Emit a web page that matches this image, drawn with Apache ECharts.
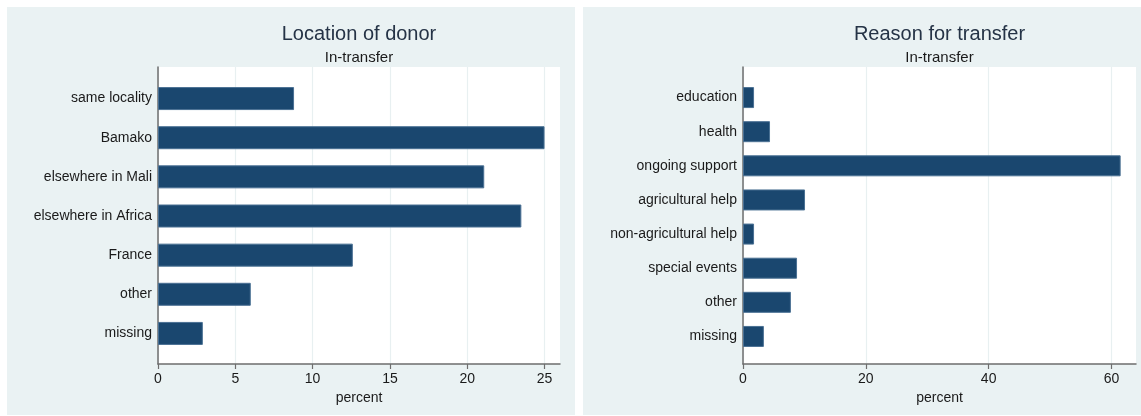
<!DOCTYPE html>
<html>
<head>
<meta charset="utf-8">
<script src="https://cdn.jsdelivr.net/npm/echarts@6/dist/echarts.min.js"></script>
<style>
html,body{margin:0;padding:0;background:#fff;}
#c{width:1141px;height:416px;}
</style>
</head>
<body>
<div id="c"></div>
<script>
// ---- data ----
const donorCategories = ['same locality','Bamako','elsewhere in Mali','elsewhere in Africa','France','other','missing'];
const donorValues = [8.8, 25.0, 21.1, 23.5, 12.6, 6.0, 2.9];
const donorTicks = [0, 5, 10, 15, 20, 25];

const reasonCategories = ['education','health','ongoing support','agricultural help','non-agricultural help','special events','other','missing'];
const reasonValues = [1.8, 4.4, 61.5, 10.1, 1.8, 8.8, 7.8, 3.4];
const reasonTicks = [0, 20, 40, 60];

const titles = ['Location of donor', 'Reason for transfer'];
const subtitle = 'In-transfer';
const axisTitle = 'percent';

// ---- styles ----
const FONT = '"Liberation Sans", Arial, sans-serif';
const PANEL_BG = '#eaf2f3';
const BAR = '#1a476f';
const TXT = '#1a1a1a';
const TITLE_C = '#253346';
const AXIS_C = '#6e6e6e';
const GRID_C = '#e8f0f1';

const chart = echarts.init(document.getElementById('c'), null, {renderer:'canvas'});

function bgX(gridIndex, max, ticks){
  return {
    type:'value', gridIndex, min:0, max, interval: ticks[1]-ticks[0],
    axisLine:{show:true, onZero:false, lineStyle:{color:AXIS_C, width:1.5}},
    axisTick:{show:true, length:5, customValues: ticks, lineStyle:{color:AXIS_C, width:1.2}},
    axisLabel:{show:true, fontSize:14, fontFamily:FONT, color:TXT, margin:8, customValues: ticks},
    splitLine:{show:true, lineStyle:{color:GRID_C, width:1.2}},
    name: axisTitle, nameLocation:'middle', nameGap:26,
    nameTextStyle:{fontSize:14, fontFamily:FONT, color:TXT}
  };
}
function hiddenX(gridIndex, max){
  return {type:'value', gridIndex, min:0, max, show:false};
}
function bgY(gridIndex){
  return {type:'value', gridIndex, min:0, max:1,
    axisLine:{show:true, lineStyle:{color:AXIS_C, width:1.5}},
    axisTick:{show:false}, axisLabel:{show:false}, splitLine:{show:false}};
}
function catY(gridIndex, cats){
  return {type:'category', gridIndex, data:cats, inverse:true,
    axisLine:{show:false}, axisTick:{show:false},
    axisLabel:{fontSize:14, fontFamily:FONT, color:TXT, margin:6},
    splitLine:{show:false}};
}

const option = {
  animation:false,
  backgroundColor:'#fff',
  graphic:[
    {type:'rect', shape:{x:7, y:7, width:568, height:408}, style:{fill:PANEL_BG}, z:-10, silent:true},
    {type:'rect', shape:{x:583, y:7, width:558, height:408}, style:{fill:PANEL_BG}, z:-10, silent:true}
  ],
  title:[
    {text:titles[0], left:359, top:23, textAlign:'center', padding:0,
      textStyle:{fontSize:20, fontWeight:'normal', fontFamily:FONT, color:TITLE_C, lineHeight:22}},
    {text:subtitle, left:359, top:49, textAlign:'center', padding:0,
      textStyle:{fontSize:15, fontWeight:'normal', fontFamily:FONT, color:TXT, lineHeight:17}},
    {text:titles[1], left:939.5, top:23, textAlign:'center', padding:0,
      textStyle:{fontSize:20, fontWeight:'normal', fontFamily:FONT, color:TITLE_C, lineHeight:22}},
    {text:subtitle, left:939.5, top:49, textAlign:'center', padding:0,
      textStyle:{fontSize:15, fontWeight:'normal', fontFamily:FONT, color:TXT, lineHeight:17}}
  ],
  grid:[
    {left:158, right:581, top:67, bottom:52, show:true, backgroundColor:'#fff', borderWidth:0},
    {left:158, right:581, top:79, bottom:63},
    {left:743, right:5, top:67, bottom:52, show:true, backgroundColor:'#fff', borderWidth:0},
    {left:743, right:5, top:80.5, bottom:62.5}
  ],
  xAxis:[
    bgX(0, 26, donorTicks),
    hiddenX(1, 26),
    bgX(2, 64, reasonTicks),
    hiddenX(3, 64)
  ],
  yAxis:[
    bgY(0),
    catY(1, donorCategories),
    bgY(2),
    catY(3, reasonCategories)
  ],
  series:[
    {type:'bar', xAxisIndex:1, yAxisIndex:1, data:donorValues, barWidth:23,
      itemStyle:{color:BAR, borderColor:'#4a7093', borderWidth:1}, z:5},
    {type:'bar', xAxisIndex:3, yAxisIndex:3, data:reasonValues, barWidth:21,
      itemStyle:{color:BAR, borderColor:'#4a7093', borderWidth:1}, z:5}
  ]
};
chart.setOption(option);
</script>
</body>
</html>
